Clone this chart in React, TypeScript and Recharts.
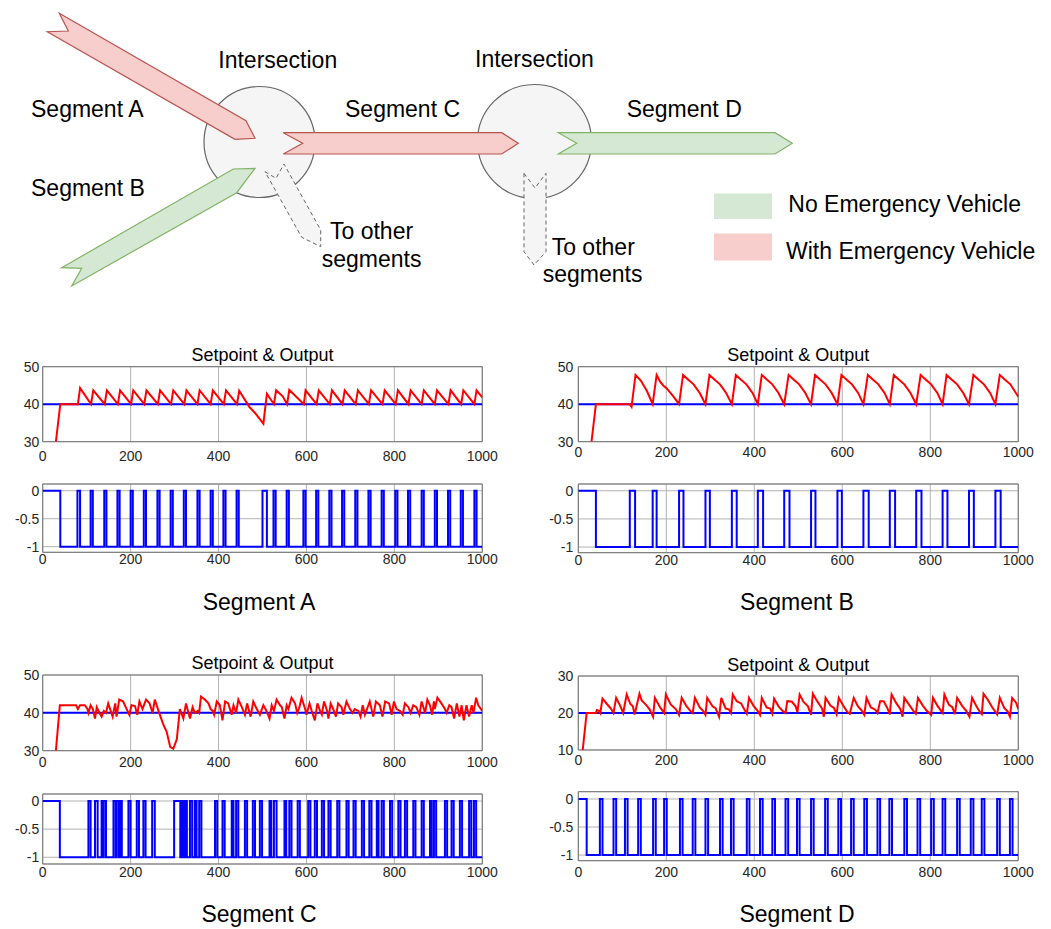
import React from "react";
import { LineChart, Line, XAxis, YAxis, CartesianGrid, ReferenceArea, Surface } from "recharts";

type Pt = [number, number];

const timeTicks = [0, 200, 400, 600, 800, 1000];
const outTicksAC = [30, 40, 50];
const outTicksD = [10, 20, 30];
const ctrlTicks = [-1, -0.5, 0];

// setpoints
const setpointA: Pt[] = [[0, 40], [1000, 40]];
const setpointB: Pt[] = [[0, 40], [1000, 40]];
const setpointC: Pt[] = [[0, 40], [1000, 40]];
const setpointD: Pt[] = [[0, 20], [1000, 20]];

// outputs (t, value)
const outputA: Pt[] = [
  [30, 30], [40, 40], [80, 40], [85, 44.3], [110, 40], [115, 43.7], [141, 40], [146, 43.7],
  [171, 40], [176, 43.7], [201, 40], [206, 43.7], [231, 40], [236, 43.7], [262, 40], [267, 43.7],
  [292, 40], [297, 43.7], [322, 40], [327, 43.7], [352, 40], [357, 43.7], [382, 40], [387, 43.7],
  [412, 40], [417, 43.7], [442, 40], [447, 43.6], [470, 39.3], [482, 37.8], [502, 34.8], [510, 42.8],
  [526, 40], [531, 43.7], [546, 42.1], [556, 40], [561, 43.8], [594, 40], [598, 43.7], [623, 40],
  [628, 43.7], [653, 40], [658, 43.7], [682, 40], [687, 43.7], [712, 40], [717, 43.7], [742, 40],
  [747, 43.7], [773, 40], [778, 43.7], [803, 40], [808, 43.7], [832, 40], [837, 43.7], [862, 40],
  [867, 43.7], [892, 40], [897, 43.7], [923, 40], [928, 43.7], [952, 40], [957, 43.7], [982, 40],
  [987, 43.7], [1000, 41.8],
];

const outputB: Pt[] = [
  [30, 30], [40, 40], [117, 40], [121, 39.3], [130, 47.8], [142, 46.3], [156, 43.5], [169, 40],
  [178, 47.8], [186, 46], [193, 45], [201, 44.2], [215, 42.2], [229, 40], [238, 47.8], [250, 46.5],
  [262, 45.3], [276, 43], [289, 40], [298, 47.8], [310, 46.5], [322, 45.3], [336, 43], [349, 40],
  [358, 47.8], [370, 46.5], [382, 45.3], [396, 43], [408, 40], [417, 47.8], [429, 46.5], [441, 45.3],
  [455, 43], [468, 40], [478, 47.8], [490, 46.5], [502, 45.3], [516, 43], [529, 40], [538, 47.8],
  [550, 46.5], [562, 45.3], [576, 43], [589, 40], [598, 47.8], [610, 46.5], [622, 45.3], [636, 43],
  [648, 40], [658, 47.8], [670, 46.5], [682, 45.3], [696, 43], [708, 40], [717, 47.8], [729, 46.5],
  [741, 45.3], [755, 43], [768, 40], [778, 47.8], [790, 46.5], [802, 45.3], [816, 43], [828, 40],
  [837, 47.8], [849, 46.5], [861, 45.3], [875, 43], [888, 40], [898, 47.8], [910, 46.5], [922, 45.3],
  [936, 43], [948, 40], [958, 47.8], [970, 46.5], [982, 45.3], [1000, 42],
];

const outputC: Pt[] = [
  [30, 30], [39, 42], [76, 42], [80, 41], [85, 42], [96, 42], [102, 41], [104, 40], [109, 42],
  [114, 41], [119, 38.5], [123, 41.5], [129, 40], [134, 39], [139, 40.5], [144, 40], [149, 42.5],
  [159, 39], [165, 42.5], [168, 39], [174, 43.5], [183, 43], [195, 40], [197, 39.5], [202, 42],
  [210, 41.8], [215, 39.5], [220, 43], [227, 41], [235, 43.5], [243, 42.5], [250, 40], [255, 43.5],
  [265, 40], [274, 37], [282, 35], [290, 31], [297, 30.5], [305, 33], [312, 41], [320, 38.5],
  [326, 42.5], [335, 38.5], [341, 41.5], [346, 40], [353, 40.5], [356, 40], [360, 44.3], [369, 43.5],
  [377, 42.5], [382, 41], [387, 40.5], [390, 39.5], [396, 43], [403, 42], [409, 38], [415, 43],
  [422, 42.5], [430, 39.5], [434, 42], [440, 40], [445, 43.5], [453, 41.5], [460, 39.5], [465, 42.5],
  [473, 39], [479, 43], [487, 41], [494, 39.5], [502, 42], [509, 40.5], [516, 38.5], [521, 42],
  [526, 40.5], [532, 43.5], [540, 42], [544, 41.5], [550, 38.5], [555, 42], [559, 41], [566, 44],
  [574, 42.5], [579, 40], [584, 41.5], [589, 44], [597, 41], [600, 39.5], [607, 42.5], [612, 40.5],
  [619, 38], [625, 42.5], [631, 40.5], [635, 39.5], [640, 43], [647, 40.5], [650, 38.5], [655, 42.5],
  [661, 41], [667, 39], [672, 42.5], [680, 41.5], [684, 39.5], [691, 43], [699, 41], [705, 40],
  [710, 41], [718, 40.5], [723, 39], [728, 42], [733, 39.5], [744, 43], [752, 39], [758, 43],
  [767, 42], [773, 39], [779, 43], [788, 42.5], [794, 39.5], [799, 43], [805, 41], [813, 40.5],
  [819, 39.5], [824, 42.5], [832, 41.5], [837, 40], [843, 42], [850, 41.5], [857, 39.5], [862, 43],
  [870, 40], [875, 43.5], [881, 42], [886, 39.5], [890, 43], [892, 41], [898, 44], [907, 42.5],
  [915, 41], [919, 40], [925, 42], [930, 41.5], [936, 38.5], [942, 42.5], [948, 39], [953, 42],
  [958, 38], [964, 42], [970, 39], [976, 42], [980, 40], [986, 44], [991, 42], [1000, 40.5],
];

const outputD: Pt[] = [
  [10, 10], [19, 20], [40, 20], [42, 20.8], [47, 20.6], [50, 20], [55, 23.9], [66, 22.3], [74, 21.2],
  [80, 20], [86, 24.1], [95, 22], [102, 20], [110, 25], [118, 22.5], [124, 21.8], [128, 19.6],
  [139, 25.2], [144, 23.4], [154, 22.2], [162, 21], [170, 19], [174, 24.1], [186, 21.5], [195, 20],
  [199, 25], [210, 22.3], [222, 21], [229, 19.5], [235, 24.1], [245, 22], [255, 20.5], [260, 20],
  [265, 24.1], [276, 21.5], [284, 20.5], [289, 19.5], [293, 24.1], [305, 21.8], [312, 21.3], [320, 19],
  [325, 24.1], [335, 21.2], [342, 21], [347, 20], [351, 25], [360, 23.2], [370, 22.6], [378, 20.8],
  [383, 19.8], [388, 24.1], [398, 22], [408, 20.5], [413, 19.5], [417, 24.1], [428, 21.5], [436, 21.2],
  [441, 19.8], [445, 23.9], [455, 21.8], [465, 20.5], [471, 20], [475, 23.2], [485, 23.1], [494, 21.8],
  [498, 20.2], [503, 25], [512, 23], [522, 21.8], [529, 19.5], [533, 25.2], [544, 23], [554, 21.2],
  [558, 19], [562, 24.1], [573, 22], [581, 21.4], [587, 19.7], [592, 24.1], [603, 21.8], [611, 20.3],
  [617, 19.8], [626, 24.1], [635, 21.9], [645, 20.5], [650, 19.5], [655, 24.1], [665, 21.5], [675, 20.9],
  [680, 20], [686, 23.2], [694, 23.2], [703, 21.2], [708, 19.6], [712, 25], [722, 22.8], [732, 21],
  [737, 19], [741, 24.1], [752, 22.2], [762, 20.5], [767, 19.8], [772, 24.1], [783, 22], [792, 20.6],
  [802, 19.5], [806, 24.1], [816, 22], [825, 20.5], [828, 20], [832, 25], [842, 22.3], [850, 21.6],
  [856, 19.7], [861, 24.1], [872, 22], [882, 20.5], [889, 19], [895, 24.1], [905, 21.8], [913, 20.2],
  [917, 19.7], [921, 25.2], [931, 23.5], [941, 21.5], [952, 19.6], [958, 24.1], [968, 21.4], [976, 20.4],
  [981, 19], [986, 24.1], [995, 22.8], [1000, 21],
];

// control signal: intervals [start, end] where it sits at 0 (otherwise -1)
const pulsesA: Pt[] = [
  [0, 40], [79, 85], [109, 114], [140, 145], [170, 175], [200, 205], [230, 235], [261, 266], [291, 296],
  [321, 326], [352, 357], [382, 387], [411, 416], [441, 446], [500, 510], [525, 530], [555, 560],
  [593, 598], [622, 627], [652, 657], [681, 686], [711, 716], [741, 746], [771, 776], [802, 807],
  [831, 836], [862, 867], [892, 897], [922, 927], [951, 956], [982, 987],
];
const pulsesB: Pt[] = [
  [0, 40], [117, 129], [169, 178], [229, 239], [289, 299], [349, 360], [408, 420], [468, 480],
  [529, 539], [589, 599], [648, 660], [708, 720], [768, 780], [828, 839], [888, 899], [948, 960],
];
const pulsesC: Pt[] = [
  [0, 39], [104, 109], [119, 125], [134, 138], [139, 144], [161, 166], [167, 172], [176, 180],
  [195, 200], [214, 219], [229, 234], [249, 255], [299, 313], [316, 320], [324, 328], [335, 340],
  [346, 350], [356, 361], [392, 397], [409, 414], [430, 434], [440, 445], [460, 465], [478, 483],
  [494, 499], [516, 520], [526, 532], [550, 554], [561, 566], [580, 585], [604, 609], [619, 624],
  [635, 640], [650, 655], [670, 675], [691, 696], [707, 712], [726, 731], [743, 748], [760, 764],
  [771, 776], [790, 795], [809, 814], [824, 829], [843, 848], [862, 867], [881, 885], [890, 895],
  [915, 920], [930, 935], [949, 954], [970, 975], [981, 986],
];
const pulsesD: Pt[] = [
  [0, 19], [49, 55], [80, 86], [106, 112], [136, 142], [170, 176], [195, 201], [231, 237], [260, 266],
  [289, 295], [322, 328], [347, 353], [383, 389], [413, 419], [441, 447], [471, 477], [497, 503],
  [529, 535], [561, 567], [591, 597], [620, 626], [650, 656], [680, 686], [707, 713], [741, 747],
  [771, 777], [802, 808], [828, 834], [861, 867], [892, 898], [917, 923], [952, 958], [981, 987],
];

const FONT = "'Liberation Sans', Arial, Helvetica, sans-serif";
const tickStyle = { fill: "#262626", fontSize: 14, fontFamily: FONT };

const toRows = (pts: Pt[]) => pts.map(([t, v]) => ({ t, v }));
const pulseRows = (pulses: Pt[]) => {
  const rows: { t: number; v: number }[] = [];
  pulses.forEach(([s, e]) => {
    rows.push({ t: s, v: 0 }, { t: e, v: -1 });
  });
  rows.push({ t: 1000, v: -1 });
  return rows;
};

interface Box {
  x0: number;
  x1: number;
  y0: number;
  y1: number;
}

interface PlotProps {
  left: number;
  top: number;
  box: Box;
  yDomain: [number, number];
  yTicks: number[];
  xGap: number;
  yGap: number;
  setpoint?: Pt[];
  output?: Pt[];
  pulses?: Pt[];
}

const Plot = ({ left, top, box, yDomain, yTicks, xGap, yGap, setpoint, output, pulses }: PlotProps) => {
  const width = box.x1 - left + 26;
  const height = box.y1 - top + 30;
  return (
    <div style={{ position: "absolute", left, top }}>
      <LineChart width={width} height={height} margin={{ top: box.y0 - top, right: 26, bottom: 0, left: 0 }}>
        <CartesianGrid stroke="#b2b2b2" strokeWidth={1} />
        <XAxis
          type="number"
          dataKey="t"
          domain={[0, 1000]}
          ticks={timeTicks}
          allowDataOverflow
          axisLine={false}
          tickLine={false}
          tickSize={0}
          tickMargin={xGap}
          height={30}
          tick={tickStyle}
        />
        <YAxis
          type="number"
          domain={yDomain}
          ticks={yTicks}
          allowDataOverflow
          axisLine={false}
          tickLine={false}
          tickSize={0}
          tickMargin={yGap}
          width={box.x0 - left}
          tick={tickStyle}
        />
        <ReferenceArea
          x1={0}
          x2={1000}
          y1={yDomain[0]}
          y2={yDomain[1]}
          fill="none"
          stroke="#737373"
          strokeWidth={1}
          ifOverflow="visible"
        />
        {setpoint && (
          <Line data={toRows(setpoint)} dataKey="v" stroke="#0000ff" strokeWidth={2} dot={false} activeDot={false} isAnimationActive={false} />
        )}
        {output && (
          <Line data={toRows(output)} dataKey="v" stroke="#ff0000" strokeWidth={2} dot={false} activeDot={false} isAnimationActive={false} />
        )}
        {pulses && (
          <Line type="stepAfter" data={pulseRows(pulses)} dataKey="v" stroke="#0000ff" strokeWidth={2} dot={false} activeDot={false} isAnimationActive={false} />
        )}
      </LineChart>
    </div>
  );
};

const txt = (x: number, y: number, s: string, size = 23, anchor: "start" | "middle" = "start") => (
  <text x={x} y={y} fontSize={size} fontFamily={FONT} fill="#000" textAnchor={anchor}>
    {s}
  </text>
);

const Diagram = () => (
  <Surface width={1051} height={929} style={{ position: "absolute", left: 0, top: 0 }}>
    <circle cx={259.5} cy={142} r={55.5} fill="#f5f5f5" stroke="#666666" strokeWidth={1.2} />
    <circle cx={534.5} cy={141.5} r={57} fill="#f5f5f5" stroke="#666666" strokeWidth={1.2} />
    <polygon
      points="265,171.7 276,178.3 284,164 320.7,230 320.7,246.7 301.7,237.3"
      fill="#f5f5f5"
      stroke="#666666"
      strokeDasharray="4 3"
      strokeWidth={1}
    />
    <polygon
      points="524,173.3 535,188 546,173.3 546,251.7 534,265 524,251.7"
      fill="#f5f5f5"
      stroke="#666666"
      strokeDasharray="4 3"
      strokeWidth={1}
    />
    <polygon points="59.3,13.3 246,120.7 255,138.3 235,139.3 47.3,31.7 68.3,31" fill="#f8cecc" stroke="#b85450" strokeWidth={1.2} />
    <polygon points="61.7,267.7 233.3,169 255,168.3 236.7,192.7 71.7,286 81.7,268.3" fill="#d5e8d4" stroke="#82b366" strokeWidth={1.2} />
    <polygon points="283.3,132.7 501.7,132.7 518.3,143.3 501.7,154 283.3,154 302.7,143.3" fill="#f8cecc" stroke="#b85450" strokeWidth={1.2} />
    <polygon points="558.3,132.7 775,132.7 792.3,143.3 775,154 558.3,154 576.7,143.3" fill="#d5e8d4" stroke="#82b366" strokeWidth={1.2} />
    {txt(218.3, 68.3, "Intersection")}
    {txt(475, 66.7, "Intersection")}
    {txt(31, 116.7, "Segment A")}
    {txt(31, 195.7, "Segment B")}
    {txt(345, 116.7, "Segment C")}
    {txt(626.7, 117.3, "Segment D")}
    {txt(330, 239.3, "To other")}
    {txt(321.7, 266.7, "segments")}
    {txt(551.7, 255, "To other")}
    {txt(542.7, 281.7, "segments")}
    <rect x={714} y={193.5} width={58} height={25.5} fill="#d5e8d4" />
    <rect x={714} y={233.5} width={58} height={27} fill="#f8cecc" />
    {txt(788.3, 211.7, "No Emergency Vehicle")}
    {txt(786, 259.3, "With Emergency Vehicle")}
    {txt(262.5, 360.5, "Setpoint & Output", 18, "middle")}
    {txt(798.3, 360.5, "Setpoint & Output", 18, "middle")}
    {txt(262.5, 669.3, "Setpoint & Output", 18, "middle")}
    {txt(798.3, 670.5, "Setpoint & Output", 18, "middle")}
    {txt(259, 610, "Segment A", 23, "middle")}
    {txt(797, 610, "Segment B", 23, "middle")}
    {txt(259, 922, "Segment C", 23, "middle")}
    {txt(797, 922, "Segment D", 23, "middle")}
  </Surface>
);

export default function App() {
  return (
    <div style={{ position: "absolute", left: 0, top: 0, width: 1051, height: 929, background: "#fff", fontFamily: FONT }}>
      <Diagram />
      <Plot left={0} top={340} box={{ x0: 42.7, x1: 482.3, y0: 366.7, y1: 441.7 }} yDomain={[30, 50]} yTicks={outTicksAC} xGap={9} yGap={3.5} setpoint={setpointA} output={outputA} />
      <Plot left={0} top={470} box={{ x0: 42.7, x1: 482.3, y0: 484, y1: 552.3 }} yDomain={[-1.1, 0.12]} yTicks={ctrlTicks} xGap={2} yGap={3.5} pulses={pulsesA} />
      <Plot left={520} top={340} box={{ x0: 578.3, x1: 1018.3, y0: 366.7, y1: 441.7 }} yDomain={[30, 50]} yTicks={outTicksAC} xGap={5} yGap={5} setpoint={setpointB} output={outputB} />
      <Plot left={520} top={470} box={{ x0: 578.3, x1: 1018.3, y0: 484, y1: 552.7 }} yDomain={[-1.1, 0.12]} yTicks={ctrlTicks} xGap={2} yGap={5} pulses={pulsesB} />
      <Plot left={0} top={650} box={{ x0: 42.7, x1: 482.3, y0: 675, y1: 750.7 }} yDomain={[30, 50]} yTicks={outTicksAC} xGap={6} yGap={3.5} setpoint={setpointC} output={outputC} />
      <Plot left={0} top={780} box={{ x0: 42.7, x1: 482.3, y0: 794, y1: 864 }} yDomain={[-1.12, 0.125]} yTicks={ctrlTicks} xGap={3.5} yGap={3.5} pulses={pulsesC} />
      <Plot left={520} top={650} box={{ x0: 578.3, x1: 1018.3, y0: 676, y1: 750 }} yDomain={[10, 30]} yTicks={outTicksD} xGap={5} yGap={5} setpoint={setpointD} output={outputD} />
      <Plot left={520} top={780} box={{ x0: 578.3, x1: 1018.3, y0: 791.7, y1: 860.7 }} yDomain={[-1.1, 0.13]} yTicks={ctrlTicks} xGap={6} yGap={5} pulses={pulsesD} />
    </div>
  );
}
